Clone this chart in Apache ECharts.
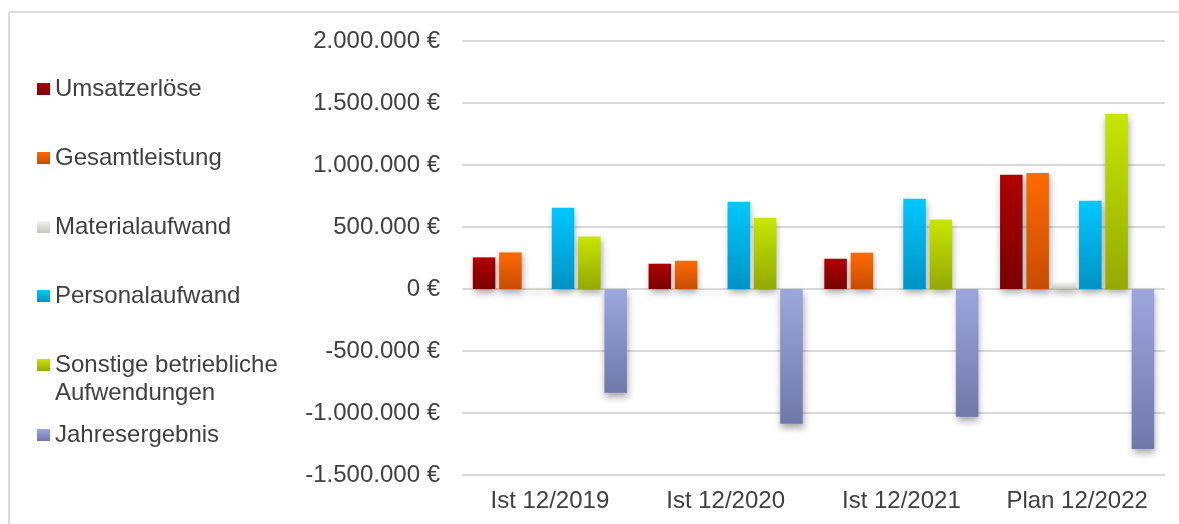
<!DOCTYPE html>
<html>
<head>
<meta charset="utf-8">
<script src="https://cdn.jsdelivr.net/npm/echarts@6/dist/echarts.min.js"></script>
<style>
  html, body { margin: 0; padding: 0; background: #fff; }
  #chart { width: 1179px; height: 524px; }
</style>
</head>
<body>
<div id="chart"></div>
<script>
var categories = ['Ist 12/2019', 'Ist 12/2020', 'Ist 12/2021', 'Plan 12/2022'];

var umsatzerloese = [255000, 204000, 244000, 922000];
var gesamtleistung = [295000, 228000, 293000, 935000];
var materialaufwand = [10000, 6000, 5000, 50000];
var personalaufwand = [656000, 704000, 728000, 712000];
var sonstigeAufwendungen = [424000, 575000, 560000, 1413000];
var jahresergebnis = [-836000, -1086000, -1030000, -1290000];

var yTicks = { min: -1500000, max: 2000000, step: 500000 };

// farbverlauf oben -> unten
var palette = {
  'Umsatzerlöse': ['#b00000', '#7a0000'],
  'Gesamtleistung': ['#ff6a00', '#c84c00'],
  'Materialaufwand': ['#f2f2ee', '#c6c6bd'],
  'Personalaufwand': ['#00c8ff', '#0093c4'],
  'Sonstige betriebliche\nAufwendungen': ['#c8e600', '#92aa00'],
  'Jahresergebnis': ['#9ca7de', '#7078ab']
};

var seriesData = [
  ['Umsatzerlöse', umsatzerloese],
  ['Gesamtleistung', gesamtleistung],
  ['Materialaufwand', materialaufwand],
  ['Personalaufwand', personalaufwand],
  ['Sonstige betriebliche\nAufwendungen', sonstigeAufwendungen],
  ['Jahresergebnis', jahresergebnis]
];

var font = "'Liberation Sans', Arial, sans-serif";
var textColor = '#404040';

function euro(v) {
  var s = Math.abs(v).toString().replace(/\B(?=(\d{3})+(?!\d))/g, '.');
  return (v < 0 ? '-' : '') + s + ' €';
}

var series = seriesData.map(function (s) {
  var c = palette[s[0]];
  return {
    name: s[0],
    type: 'bar',
    data: s[1],
    barWidth: 22.5,
    barGap: '17%',
    itemStyle: {
      color: new echarts.graphic.LinearGradient(0, 0, 0, 1, [
        { offset: 0, color: c[0] },
        { offset: 1, color: c[1] }
      ]),
      shadowColor: 'rgba(0,0,0,0.35)',
      shadowBlur: 7,
      shadowOffsetX: 1,
      shadowOffsetY: 4
    }
  };
});

var legendText = { fontFamily: font, fontSize: 24, color: textColor, lineHeight: 28 };
var legendBase = {
  orient: 'vertical',
  left: 37,
  padding: 0,
  icon: 'rect',
  itemWidth: 13,
  itemHeight: 12,
  itemGap: 41,
  selectedMode: false,
  textStyle: legendText
};

var myChart = echarts.init(document.getElementById('chart'), null, { renderer: 'canvas' });
myChart.setOption({
  animation: false,
  backgroundColor: '#ffffff',
  graphic: [
    { type: 'line', shape: { x1: 9, y1: 12, x2: 1179, y2: 12 }, style: { stroke: '#dcdcdc', lineWidth: 2 } },
    { type: 'line', shape: { x1: 9, y1: 12, x2: 9, y2: 524 }, style: { stroke: '#dcdcdc', lineWidth: 2 } }
  ],
  legend: [
    Object.assign({}, legendBase, {
      top: 75,
      data: seriesData.slice(0, 4).map(function (s) { return s[0]; })
    }),
    Object.assign({}, legendBase, {
      top: 323,
      // leere erste Zeile, damit das Symbol auf Höhe der ersten Textzeile sitzt
      formatter: function (name) { return '\n' + name; },
      data: [seriesData[4][0]]
    }),
    Object.assign({}, legendBase, {
      top: 421,
      data: [seriesData[5][0]]
    })
  ],
  grid: { left: 462, right: 14, top: 41, bottom: 49, containLabel: false },
  xAxis: {
    type: 'category',
    data: categories,
    axisLine: { show: false },
    axisTick: { show: false },
    axisLabel: { interval: 0, fontFamily: font, fontSize: 24, color: textColor, margin: 14 }
  },
  yAxis: {
    type: 'value',
    min: yTicks.min,
    max: yTicks.max,
    interval: yTicks.step,
    axisLine: { show: false },
    axisTick: { show: false },
    axisLabel: { fontFamily: font, fontSize: 24, color: textColor, margin: 22, formatter: euro },
    splitLine: { lineStyle: { color: '#d9d9d9', width: 2 } }
  },
  series: series
});
</script>
</body>
</html>
